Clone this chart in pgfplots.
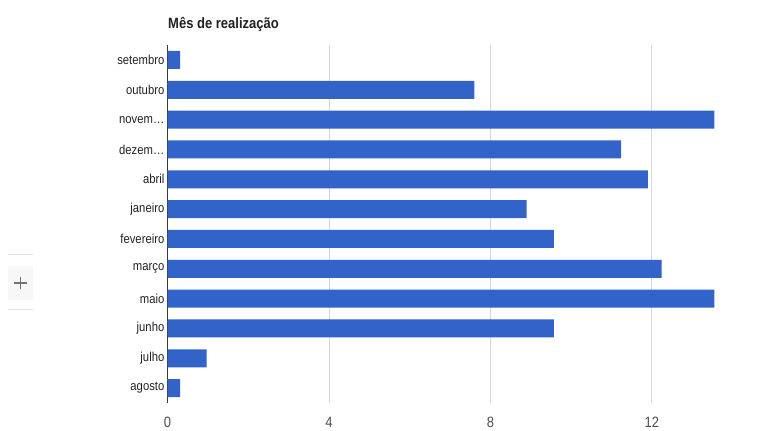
\documentclass[border=0pt]{standalone}
\usepackage{fontspec}
\setmainfont[FakeStretch=0.87]{Liberation Sans}
\usepackage{pgfplots}
\pgfplotsset{compat=1.18}
\definecolor{barblue}{HTML}{3163C9}
\definecolor{gridgray}{HTML}{D6D6D6}
\definecolor{labelgray}{HTML}{222222}
\begin{document}
\begin{tikzpicture}
    % page frame, 1px of the reference = 1bp
    \path[fill=white] (0,0) rectangle (779bp,428bp);

    % "+" button at the left edge
    \draw[gray!25] (8bp,174bp) -- (33bp,174bp);
    \draw[gray!25] (8bp,119bp) -- (33bp,119bp);
    \fill[gray!6] (8bp,128bp) rectangle (33bp,162bp);
    \draw[gray!90!black, line width=1.4bp] (14bp,145bp) -- (27bp,145bp)
        (20.5bp,139bp) -- (20.5bp,151bp);

    \node[anchor=base west, text=labelgray, inner sep=0pt, font=\bfseries\fontsize{15}{17}\selectfont]
        at (168bp,399bp) {Mês de realização};

    \begin{axis}[
        at={(167.5bp,25bp)}, anchor=south west,
        scale only axis, width=557bp, height=358bp,
        xmin=0, xmax=13.8,
        ymin=-0.5, ymax=11.5, y dir=reverse,
        axis y line=left, axis x line=bottom,
        axis line style={-},
        x axis line style={draw=none},
        y axis line style={draw=labelgray!90, line width=1.2bp},
        xtick={0,4,8,12},
        ytick={0,1,2,3,4,5,6,7,8,9,10,11},
        yticklabels={setembro,outubro,{novem\ldots},{dezem\ldots},abril,janeiro,fevereiro,março,maio,junho,julho,agosto},
        major tick length=0pt,
        xmajorgrids, grid style={gridgray, line width=0.8bp},
        tick label style={text=labelgray},
        yticklabel style={font=\fontsize{13}{15}\selectfont, inner sep=3bp},
        xticklabel style={anchor=base, yshift=-24bp, text=labelgray!80, font=\fontsize{15}{17}\selectfont},
        /pgf/number format/assume math mode=true,
    ]
    \addplot[xbar, bar shift=0pt, bar width=18bp, fill=barblue, draw=none] coordinates {
        (0.31,0) (7.6,1) (13.55,2) (11.24,3) (11.9,4) (8.9,5)
        (9.57,6) (12.24,7) (13.55,8) (9.57,9) (0.97,10) (0.31,11)
    };
    \end{axis}
\end{tikzpicture}
\end{document}
